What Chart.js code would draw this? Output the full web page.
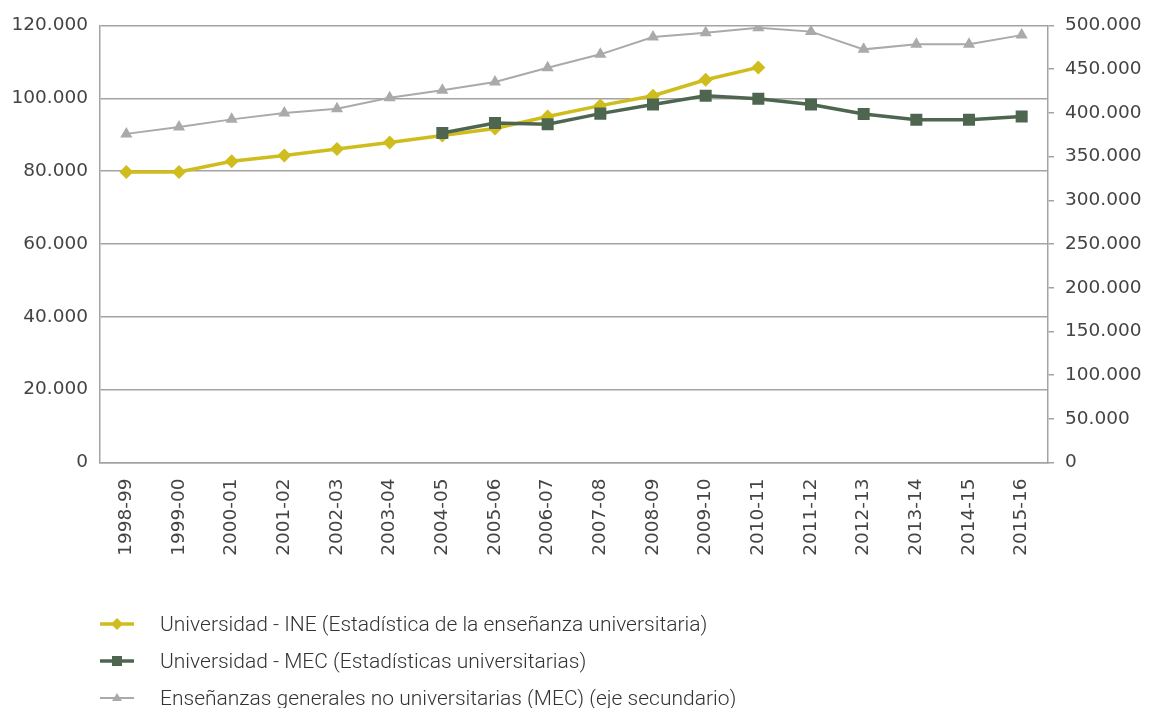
<!DOCTYPE html>
<html>
<head>
<meta charset="utf-8">
<script src="https://cdn.jsdelivr.net/npm/chart.js@4/dist/chart.umd.min.js"></script>
<style>
  html, body { margin: 0; padding: 0; background: #fff; overflow: hidden; }
  #wrap { position: relative; width: 1154px; height: 708px; }
  #legend { position: absolute; left: 100px; top: 605px; font-family: 'Roboto', sans-serif; font-weight: 300; font-size: 21px; color: #333; }
  .item { display: flex; align-items: center; height: 37px; }
  .item svg { width: 60px; height: 20px; flex: none; }
</style>
</head>
<body>
<div id="wrap">
  <canvas id="chart" width="1154" height="708"></canvas>
  <div id="legend"></div>
</div>
<script>
const years = ['1998-99', '1999-00', '2000-01', '2001-02', '2002-03', '2003-04', '2004-05', '2005-06', '2006-07',
  '2007-08', '2008-09', '2009-10', '2010-11', '2011-12', '2012-13', '2013-14', '2014-15', '2015-16'];

// alumnado universitario según INE (hasta 2010-11)
const uniINE = [79800, 79800, 82700, 84300, 86100, 87900, 89800, 91700, 95000, 98000, 100700, 105100, 108500,
  null, null, null, null, null];

// alumnado universitario según MEC (desde 2004-05)
const uniMEC = [null, null, null, null, null, null, 90500, 93200, 92900, 95800, 98300, 100700, 99900, 98300,
  95700, 94100, 94100, 95000];

// enseñanzas generales no universitarias, eje secundario
const noUni = [376000, 384000, 392600, 400000, 404700, 417300, 426000, 435300, 451700, 467000, 486800, 491800,
  497500, 493000, 472700, 478500, 478500, 489000];

const labels = [
  'Universidad - INE (Estadística de la enseñanza universitaria)',
  'Universidad - MEC (Estadísticas universitarias)',
  'Enseñanzas generales no universitarias (MEC) (eje secundario)'
];

const YELLOW = '#cfbd1d';
const GREEN = '#4e6650';
const GRAY = '#a8aaab';
const GRID = '#a3a3a3';
const TEXT = '#444444';

const fmt = v => String(v).replace(/\B(?=(\d{3})+(?!\d))/g, '.');
const tickFont = { family: 'DejaVu Sans', weight: 'normal', size: 18.5 };

const ctx = document.getElementById('chart').getContext('2d');
const chart = new Chart(ctx, {
  type: 'line',
  data: {
    labels: years,
    datasets: [
      {
        label: labels[1], data: uniMEC, yAxisID: 'y', order: 0,
        borderColor: GREEN, backgroundColor: GREEN, borderWidth: 3.5,
        pointStyle: 'rect', pointRadius: 8.5, pointBorderWidth: 0, tension: 0
      },
      {
        label: labels[0], data: uniINE, yAxisID: 'y', order: 1,
        borderColor: YELLOW, backgroundColor: YELLOW, borderWidth: 3.5,
        pointStyle: 'rectRot', pointRadius: 7, pointBorderWidth: 0, tension: 0
      },
      {
        label: labels[2], data: noUni, yAxisID: 'y2', order: 2,
        borderColor: GRAY, backgroundColor: GRAY, borderWidth: 2,
        pointStyle: 'triangle', pointRadius: 7, pointBorderWidth: 0, tension: 0
      }
    ]
  },
  options: {
    responsive: false,
    animation: false,
    layout: { padding: { top: 25.5, left: 0, right: 0, bottom: 0 } },
    plugins: {
      legend: { display: false },
      tooltip: { enabled: false }
    },
    scales: {
      x: {
        offset: true,
        grid: { display: false, drawTicks: false },
        border: { display: true, color: GRID, width: 1.5 },
        ticks: { color: TEXT, font: tickFont, minRotation: 90, maxRotation: 90, padding: 16, autoSkip: false },
        afterFit: s => { s.height = 245.5; }
      },
      y: {
        position: 'left',
        min: 0, max: 120000,
        grid: { color: GRID, lineWidth: 1.5, drawTicks: false },
        border: { display: true, color: GRID, width: 1.5 },
        ticks: { stepSize: 20000, color: TEXT, font: tickFont, padding: 12, callback: v => fmt(v) },
        afterFit: s => { s.width = 100; }
      },
      y2: {
        position: 'right',
        min: 0, max: 500000,
        grid: { drawOnChartArea: false, color: GRID, lineWidth: 1.5, tickLength: 6 },
        border: { display: true, color: GRID, width: 1.5 },
        ticks: { stepSize: 50000, color: TEXT, font: tickFont, padding: 11, callback: v => fmt(v) },
        afterFit: s => { s.width = 106; }
      }
    }
  }
});

// leyenda: línea con marcador de cada serie
const marks = [
  { color: YELLOW, w: 3.5, shape: '<polygon points="17,4 23,10 17,16 11,10" fill="' + YELLOW + '"/>' },
  { color: GREEN, w: 3.5, shape: '<rect x="12" y="5" width="10" height="10" fill="' + GREEN + '"/>' },
  { color: GRAY, w: 2, shape: '<polygon points="17,5 22,13 12,13" fill="' + GRAY + '"/>' }
];
const legend = document.getElementById('legend');
labels.forEach((txt, i) => {
  const m = marks[i];
  const div = document.createElement('div');
  div.className = 'item';
  div.innerHTML = '<svg viewBox="0 0 60 20"><line x1="0" y1="10" x2="34" y2="10" stroke="' + m.color +
    '" stroke-width="' + m.w + '"/>' + m.shape + '</svg><span>' + txt + '</span>';
  legend.appendChild(div);
});
</script>
</body>
</html>
